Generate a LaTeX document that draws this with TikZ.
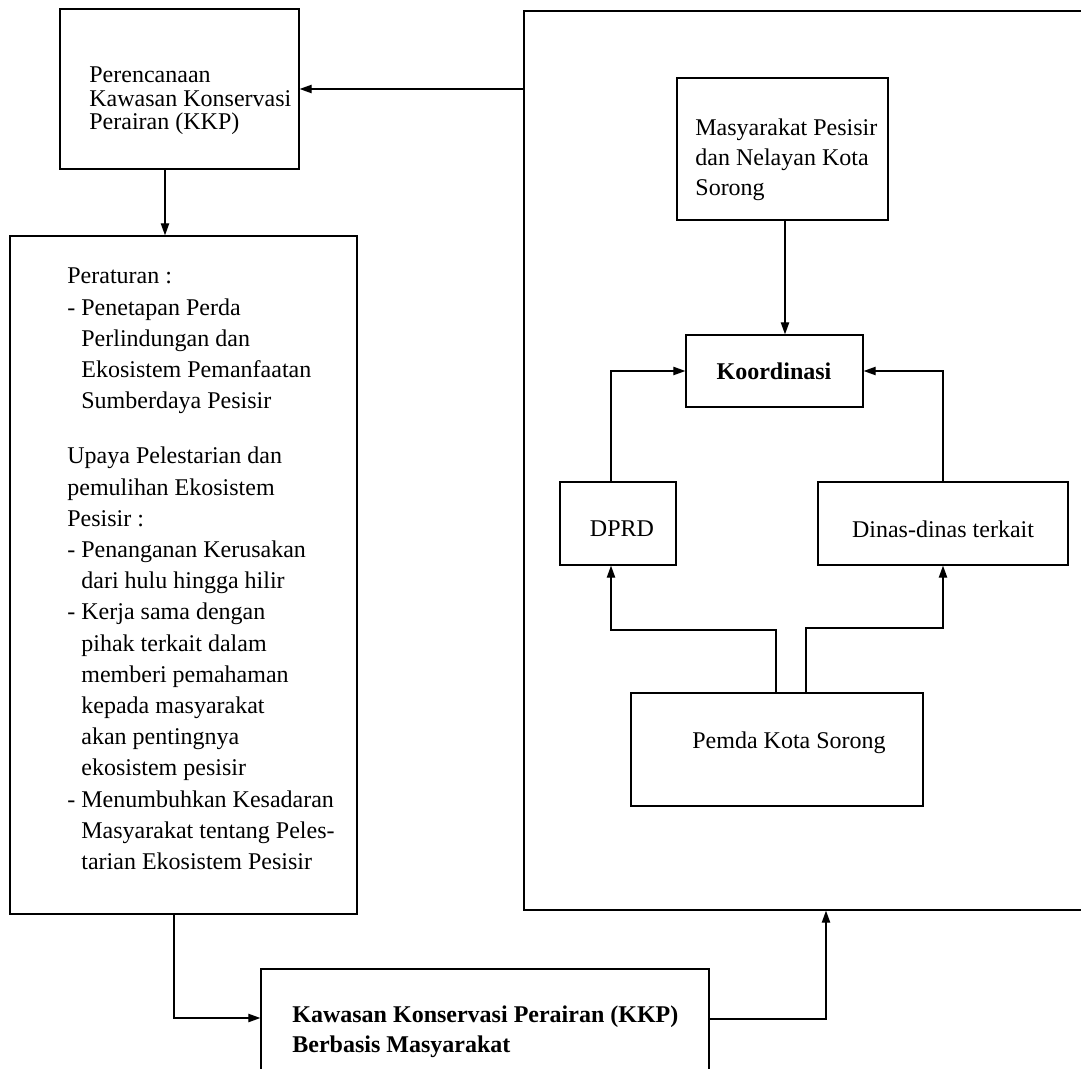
\documentclass[tikz,border=0pt]{standalone}
\usepackage{fontspec}
\setmainfont{Liberation Serif}
\usetikzlibrary{arrows.meta,fit}

\begin{document}
\begin{tikzpicture}[x=0.5pt,y=-0.5pt,
  box/.style={draw,line width=0.7pt,inner sep=0pt},
  txt/.style={anchor=west,align=left,inner sep=0pt,font=\fontsize{12}{15}\selectfont},
  lab/.style={inner sep=0pt,font=\fontsize{12}{15}\selectfont},
  arr/.style={line width=0.6pt,-{Triangle[length=6pt,width=4.2pt]}}]

\useasboundingbox (0,0) rectangle (1081,1069);

% outer boxes
\node[box,fit={(60,9)(299,169)}] (plan) {};
\node[box,fit={(10,236)(357,914)}] (rules) {};
\node[box,fit={(261,969)(709,1085)}] (kkp) {};
\node[box,fit={(524,11)(1086,910)}] (area) {};

% boxes inside the right frame
\node[box,fit={(677,78)(888,220)}] (mas) {};
\node[box,fit={(686,335)(863,407)}] (koord) {};
\node[box,fit={(560,482)(676,565)}] (dprd) {};
\node[box,fit={(818,482)(1068,565)}] (dinas) {};
\node[box,fit={(631,693)(923,806)}] (pemda) {};

% texts
\node[txt,font=\fontsize{12}{11.8}\selectfont] (plan-t) at (89,101)
  {Perencanaan\\Kawasan Konservasi\\Perairan (KKP)};
\node[txt] (mas-t) at (695,160) {Masyarakat Pesisir\\dan Nelayan Kota\\Sorong};
\node[lab,font=\fontsize{12}{15}\selectfont\bfseries] (koord-t) at (774,371) {Koordinasi};
\node[lab] (dprd-t) at (622,529) {DPRD};
\node[lab] (dinas-t) at (943,529) {Dinas-dinas terkait};
\node[lab] (pemda-t) at (789,743) {Pemda Kota Sorong};
\node[txt,font=\fontsize{12}{15.6}\selectfont] (rules-t) at (67,569) {Peraturan :\\
- Penetapan Perda\\
\phantom{- }Perlindungan dan\\
\phantom{- }Ekosistem Pemanfaatan\\
\phantom{- }Sumberdaya Pesisir\\[12pt]
Upaya Pelestarian dan\\
pemulihan Ekosistem\\
Pesisir :\\
- Penanganan Kerusakan\\
\phantom{- }dari hulu hingga hilir\\
- Kerja sama dengan\\
\phantom{- }pihak terkait dalam\\
\phantom{- }memberi pemahaman\\
\phantom{- }kepada masyarakat\\
\phantom{- }akan pentingnya\\
\phantom{- }ekosistem pesisir\\
- Menumbuhkan Kesadaran\\
\phantom{- }Masyarakat tentang Peles-\\
\phantom{- }tarian Ekosistem Pesisir};
\node[txt,font=\fontsize{12}{15}\selectfont\bfseries] (kkp-t) at (292,1032)
  {Kawasan Konservasi Perairan (KKP)\\Berbasis Masyarakat};

% connectors
\draw[arr] (area.west |- plan.east) -- (plan.east);
\draw[arr] (plan.south -| 165,0) -- (rules.north -| 165,0);
\draw[arr] (rules.south -| 174,0) |- (kkp.west |- 0,1018);
\draw[arr] (kkp.east |- 0,1019) -| (area.south -| 826,0);
\draw[arr] (mas.south -| 785,0) -- (koord.north -| 785,0);
\draw[arr] (dprd.north -| 611,0) |- (koord.west);
\draw[arr] (dinas.north) |- (koord.east);
\draw[arr] (pemda.north -| 776,0) -- (776,630) -| (dprd.south -| 611,0);
\draw[arr] (pemda.north -| 806,0) -- (806,628) -| (dinas.south);
\end{tikzpicture}
\end{document}
